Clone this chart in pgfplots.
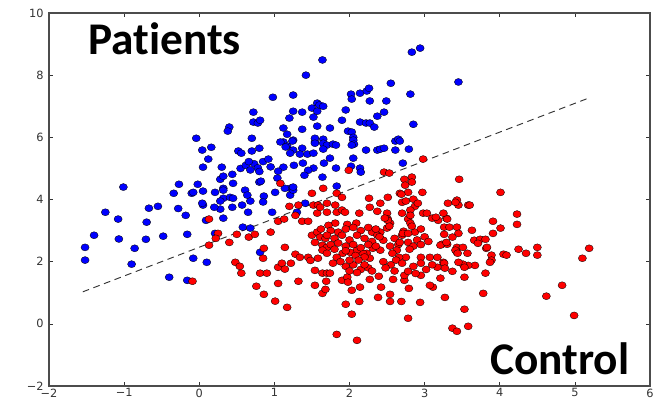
\documentclass[border=0pt]{standalone}
\usepackage{pgfplots}
\pgfplotsset{compat=1.18}
\usepackage{fontspec}
\setmainfont{DejaVu Sans}
\newfontfamily\carlito[Ligatures={NoCommon}]{Carlito}
\begin{document}
\begin{tikzpicture}
\begin{axis}[
  scale only axis, width=450.75pt, height=279.75pt,
  at={(0,0)}, anchor=south west,
  xmin=-2, xmax=6, ymin=-2, ymax=10,
  xtick={-2,-1,0,1,2,3,4,5,6},
  xticklabels={−2,−1,0,1,2,3,4,5,6},
  ytick={-2,0,2,4,6,8,10},
  yticklabels={−2,0,2,4,6,8,10},
  tick align=inside, major tick length=3pt,
  tick style={black!80, line width=0.5pt},
  axis line style={black!70, line width=0.9pt},
  ticklabel style={font=\fontsize{8.5}{10}\selectfont, text=black!80},
  xticklabel style={yshift=1.5pt},
  yticklabel style={xshift=-0.5pt},
  clip=false,
]
\addplot[black!80, line width=0.7pt, dash pattern=on 5pt off 3.5pt] coordinates {(-1.55,1.03) (5.18,7.26)};
\addplot[only marks, mark=*, mark size=2.65pt, mark options={xscale=1.15, fill=blue, draw=black, line width=0.25pt}] table {
x y
-1.52 2.46
-1.52 2.05
-1.40 2.85
-1.25 3.59
-1.08 3.37
-1.07 2.73
-1.01 4.40
-0.90 1.92
-0.86 2.43
-0.70 3.27
-0.67 3.72
-0.55 3.78
-0.71 2.72
-0.48 2.82
-0.40 1.50
-0.28 3.71
-0.18 3.49
-0.16 2.88
-0.16 1.40
-0.08 2.11
0.10 1.98
-0.27 4.49
-0.34 4.20
-0.02 4.49
-0.10 4.20
0.05 4.27
0.21 4.23
-0.08 4.23
0.32 4.36
0.45 4.52
0.32 4.04
0.41 4.07
0.45 4.04
0.61 4.30
0.64 4.14
0.68 3.95
0.57 3.82
0.65 3.59
0.44 3.75
0.28 3.69
0.20 3.75
0.05 3.82
0.04 3.88
0.09 3.33
0.32 3.40
0.80 4.56
0.86 4.11
0.97 3.59
1.21 4.36
1.21 4.14
1.25 4.30
1.30 3.59
1.41 3.88
0.58 3.11
0.68 3.08
0.21 2.91
0.81 2.30
0.28 3.95
0.85 3.92
0.32 4.30
1.01 4.23
-0.04 5.97
0.16 5.68
0.04 5.59
0.12 5.30
0.05 5.04
0.30 5.04
0.52 5.56
0.56 5.49
0.70 5.56
0.80 5.65
0.70 5.97
0.40 6.33
0.38 6.20
0.72 6.81
0.72 6.49
0.78 6.46
0.81 6.55
0.98 7.29
1.25 7.36
1.42 8.00
1.64 8.49
1.25 6.84
1.37 6.81
1.50 6.94
1.57 7.10
1.60 7.04
1.65 7.00
1.57 6.84
1.52 6.65
1.20 6.62
1.12 6.30
1.17 6.10
1.37 6.26
1.57 6.36
1.74 6.30
1.12 5.85
1.25 5.91
1.17 5.72
1.25 5.59
1.37 5.65
1.44 5.46
1.52 5.49
1.54 5.85
1.65 5.94
1.65 5.81
1.70 5.75
1.78 5.78
1.65 5.62
1.74 5.33
1.66 5.17
1.82 5.01
1.52 5.01
1.38 5.17
1.26 5.10
1.12 5.04
1.45 4.94
1.40 4.78
1.64 4.72
1.83 4.43
1.25 4.40
1.14 4.36
1.05 4.91
1.04 4.69
0.82 4.59
0.28 4.65
0.32 4.75
0.44 4.81
0.55 5.00
0.62 5.10
0.68 4.95
0.73 5.15
0.78 5.02
0.85 5.22
0.92 5.30
0.80 4.90
0.66 5.22
0.95 5.05
1.08 5.85
1.15 5.69
1.21 5.49
1.34 5.46
1.24 5.88
1.54 5.97
1.54 5.81
2.83 8.74
2.94 8.87
3.45 7.78
2.55 7.74
2.81 7.39
2.02 7.39
2.14 7.42
2.23 7.49
2.26 7.58
2.03 7.23
2.27 7.17
2.49 7.17
1.95 6.88
2.46 6.81
2.37 6.68
1.90 6.55
2.14 6.49
2.22 6.46
2.27 6.46
2.33 6.33
2.85 6.42
1.98 6.20
2.03 6.17
2.05 6.00
2.05 5.91
2.06 5.78
2.03 5.75
1.82 5.75
2.61 5.88
2.65 5.94
2.67 5.88
2.22 5.59
2.37 5.59
2.41 5.62
2.46 5.65
2.61 5.59
2.79 5.62
2.05 5.33
2.02 5.07
2.14 5.01
2.15 4.88
2.71 5.17
};
\addplot[only marks, mark=*, mark size=2.65pt, mark options={xscale=1.15, fill=red, draw=black, line width=0.25pt}] table {
x y
-0.09 1.37
0.13 3.37
0.13 2.53
0.25 2.91
0.22 2.75
0.40 2.62
0.50 2.88
0.66 2.79
0.74 2.88
0.95 2.95
0.48 1.98
0.54 1.85
0.56 1.63
0.76 1.21
0.86 0.95
1.01 0.73
1.17 0.53
0.85 2.11
0.86 2.43
0.81 1.63
0.90 1.63
1.05 1.30
1.05 1.82
1.10 1.95
1.14 1.76
1.22 1.95
1.14 2.46
1.28 2.24
1.34 2.14
1.32 1.37
1.05 3.30
1.13 3.37
1.20 3.78
1.32 3.82
1.28 3.49
1.37 3.30
1.45 3.30
1.52 3.82
1.58 3.82
1.57 3.56
1.50 2.85
1.57 2.95
1.61 2.79
1.68 2.75
1.54 2.62
1.64 2.53
1.70 2.46
1.45 2.14
1.48 2.04
1.58 2.11
1.54 1.72
1.54 1.24
1.64 0.98
1.68 1.11
1.69 1.37
1.64 1.63
1.64 2.37
1.70 2.27
1.08 4.52
1.50 4.20
1.65 4.36
2.98 5.30
1.99 4.94
2.46 4.88
2.53 4.85
2.73 4.65
2.83 4.72
2.83 4.56
3.46 4.65
4.01 4.23
1.83 4.20
1.90 4.07
2.67 4.20
2.78 4.23
2.97 4.23
2.51 4.07
2.26 4.04
3.43 3.98
2.74 4.46
2.69 4.17
2.41 3.88
2.27 3.75
2.70 3.91
2.75 3.95
2.85 4.01
2.87 3.78
2.91 3.88
1.70 3.88
1.81 3.82
1.61 3.75
1.70 3.59
1.83 3.59
1.90 3.66
1.94 3.59
2.13 3.56
2.37 3.62
2.50 3.56
2.70 3.56
2.81 3.66
2.98 3.56
3.10 3.40
3.18 3.33
3.29 3.40
1.81 3.24
1.72 3.17
1.97 3.20
2.09 3.24
2.51 3.37
2.54 3.24
2.50 3.08
2.78 3.37
2.81 3.24
4.23 3.53
4.23 3.20
3.91 3.30
4.01 3.08
3.91 2.91
3.63 3.01
3.66 2.69
3.74 2.72
3.81 2.72
3.82 2.43
3.89 2.21
3.89 2.05
3.87 1.98
3.67 1.88
3.58 1.88
3.51 1.92
3.81 1.63
3.53 1.50
3.78 0.98
3.53 0.47
3.58 -0.08
3.37 -0.14
3.43 -0.24
3.27 0.85
3.37 1.69
3.21 1.47
3.11 1.18
3.07 1.24
2.94 0.69
2.78 0.18
2.69 0.72
2.54 0.72
2.54 0.95
2.38 0.85
2.42 1.18
2.58 1.43
2.79 1.14
2.39 1.53
2.27 1.43
2.13 0.72
2.10 -0.53
1.83 -0.34
1.95 0.63
2.03 0.31
2.03 1.08
2.14 1.18
1.90 1.40
1.97 1.50
1.98 1.34
2.95 1.56
2.73 1.40
2.73 1.56
2.78 1.69
2.95 2.14
3.07 2.14
3.17 2.14
3.25 1.98
3.17 1.82
4.05 2.24
4.25 2.40
4.35 2.27
4.50 2.46
4.50 2.21
4.83 1.24
4.62 0.89
4.99 0.27
5.10 2.11
5.19 2.43
3.45 3.82
3.58 3.82
3.60 3.82
3.31 3.88
3.41 3.91
3.25 3.56
3.30 3.37
3.15 3.43
3.03 3.56
3.26 3.11
3.33 3.11
3.43 3.11
3.45 2.91
3.26 2.88
3.37 2.79
3.23 2.56
3.30 2.56
3.43 2.46
3.43 2.30
3.51 2.46
3.57 2.27
3.71 2.59
3.21 2.53
3.29 2.62
3.41 2.37
3.44 2.27
3.83 2.46
4.09 2.21
3.26 1.95
3.45 1.98
3.53 1.82
3.27 1.79
2.87 2.95
2.95 3.05
3.00 2.80
2.90 2.70
2.78 2.62
2.85 2.50
2.70 2.85
2.95 2.55
3.05 2.65
2.80 2.40
2.72 2.98
2.60 2.75
2.65 2.55
2.71 2.91
2.67 2.62
2.78 2.91
2.83 3.14
2.81 3.49
2.51 3.33
2.47 3.40
2.53 3.14
2.41 2.95
2.30 2.95
2.37 2.85
2.45 2.69
2.54 2.50
2.63 2.37
2.41 2.37
2.31 2.43
2.23 2.27
2.27 2.11
2.18 2.27
2.10 2.37
2.01 2.30
1.91 2.27
1.83 2.14
1.70 1.63
1.74 1.63
1.95 1.85
2.05 1.90
2.15 1.75
2.25 1.80
2.10 1.65
2.00 1.70
2.20 1.90
2.30 1.70
2.75 2.14
2.66 2.14
2.57 2.27
1.62 3.05
1.75 3.00
1.85 2.95
1.95 3.05
2.05 3.10
2.15 3.00
2.25 3.10
2.35 3.05
1.70 2.85
1.80 2.75
1.90 2.85
2.00 2.70
2.10 2.85
2.20 2.75
2.30 2.65
2.40 2.80
1.75 2.55
1.85 2.60
1.95 2.50
2.05 2.55
2.15 2.45
2.25 2.55
2.35 2.50
1.80 2.40
1.95 2.35
2.08 2.20
2.20 2.15
2.00 2.05
1.88 2.00
1.78 1.95
2.12 2.05
2.45 2.00
2.55 1.90
2.62 2.05
2.48 1.80
2.60 1.70
2.70 1.95
2.85 1.85
2.95 1.95
3.02 1.75
2.88 1.62
3.10 1.90
};
\node[anchor=base west, inner sep=0pt, font=\carlito\bfseries\fontsize{34}{40}\selectfont] at (axis cs:-1.48,8.65) {Pat\kern0pt ients};
\node[anchor=base west, inner sep=0pt, font=\carlito\bfseries\fontsize{34}{40}\selectfont] at (axis cs:3.87,-1.63) {Control};
\end{axis}
\pgfresetboundingbox
\path[use as bounding box] (-36.75pt,-11.25pt) rectangle (457.5pt,289.5pt);
\end{tikzpicture}
\end{document}
